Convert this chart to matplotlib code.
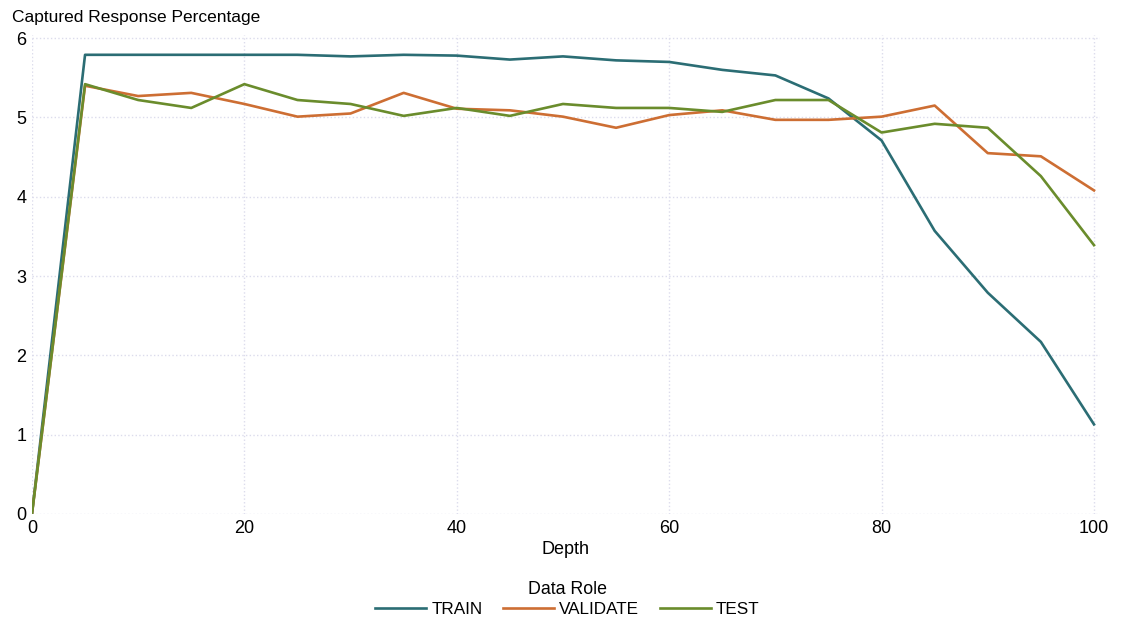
import numpy as np
import matplotlib
matplotlib.use('Agg')
import matplotlib.pyplot as plt

plt.rcParams['font.family'] = ['Liberation Sans', 'DejaVu Sans']

# Data
depth = [0, 5, 10, 15, 20, 25, 30, 35, 40, 45, 50, 55, 60, 65, 70, 75, 80, 85, 90, 95, 100]
train = [0, 5.79, 5.79, 5.79, 5.79, 5.79, 5.77, 5.79, 5.78, 5.73, 5.77, 5.72, 5.70,
         5.60, 5.53, 5.24, 4.71, 3.57, 2.79, 2.17, 1.13]
validate = [0, 5.40, 5.27, 5.31, 5.17, 5.01, 5.05, 5.31, 5.11, 5.09, 5.01, 4.87, 5.03,
            5.09, 4.97, 4.97, 5.01, 5.15, 4.55, 4.51, 4.08]
test = [0, 5.42, 5.22, 5.12, 5.42, 5.22, 5.17, 5.02, 5.12, 5.02, 5.17, 5.12, 5.12,
        5.07, 5.22, 5.22, 4.81, 4.92, 4.87, 4.26, 3.39]
roles = ['TRAIN', 'VALIDATE', 'TEST']
colors = ['#2b6d74', '#cd6e33', '#6a8c2c']

fig = plt.figure(figsize=(11.21, 6.17), dpi=100)
ax = fig.add_axes([0.0285, 0.167, 0.9527, 0.7763])

for series, label, color in zip([train, validate, test], roles, colors):
    ax.plot(depth, series, color=color, lw=1.9, label=label)

ax.set_xlim(0, 100.56)
ax.set_ylim(0, 6.04)
ax.set_xticks([0, 20, 40, 60, 80, 100])
ax.set_yticks([0, 1, 2, 3, 4, 5, 6])
ax.grid(True, color='#dcdcec', linestyle=':', linewidth=1.0)
ax.set_axisbelow(True)
for s in ax.spines.values():
    s.set_visible(False)
ax.tick_params(length=0, labelsize=13, colors='black', pad=4)
ax.set_xlabel('Depth', fontsize=13, labelpad=3)

fig.text(0.0107, 0.972, 'Captured Response Percentage', fontsize=12.5, va='center', ha='left')

leg = fig.legend(loc='lower center', bbox_to_anchor=(0.506, -0.017), ncol=3, frameon=False,
                 title='Data Role', fontsize=12.3, title_fontsize=12.8,
                 handlelength=3.0, handletextpad=0.3, columnspacing=1.2, borderaxespad=0.2,
                 labelspacing=0.2)
leg._legend_box.sep = 3

fig.savefig('out.png', dpi=100)
